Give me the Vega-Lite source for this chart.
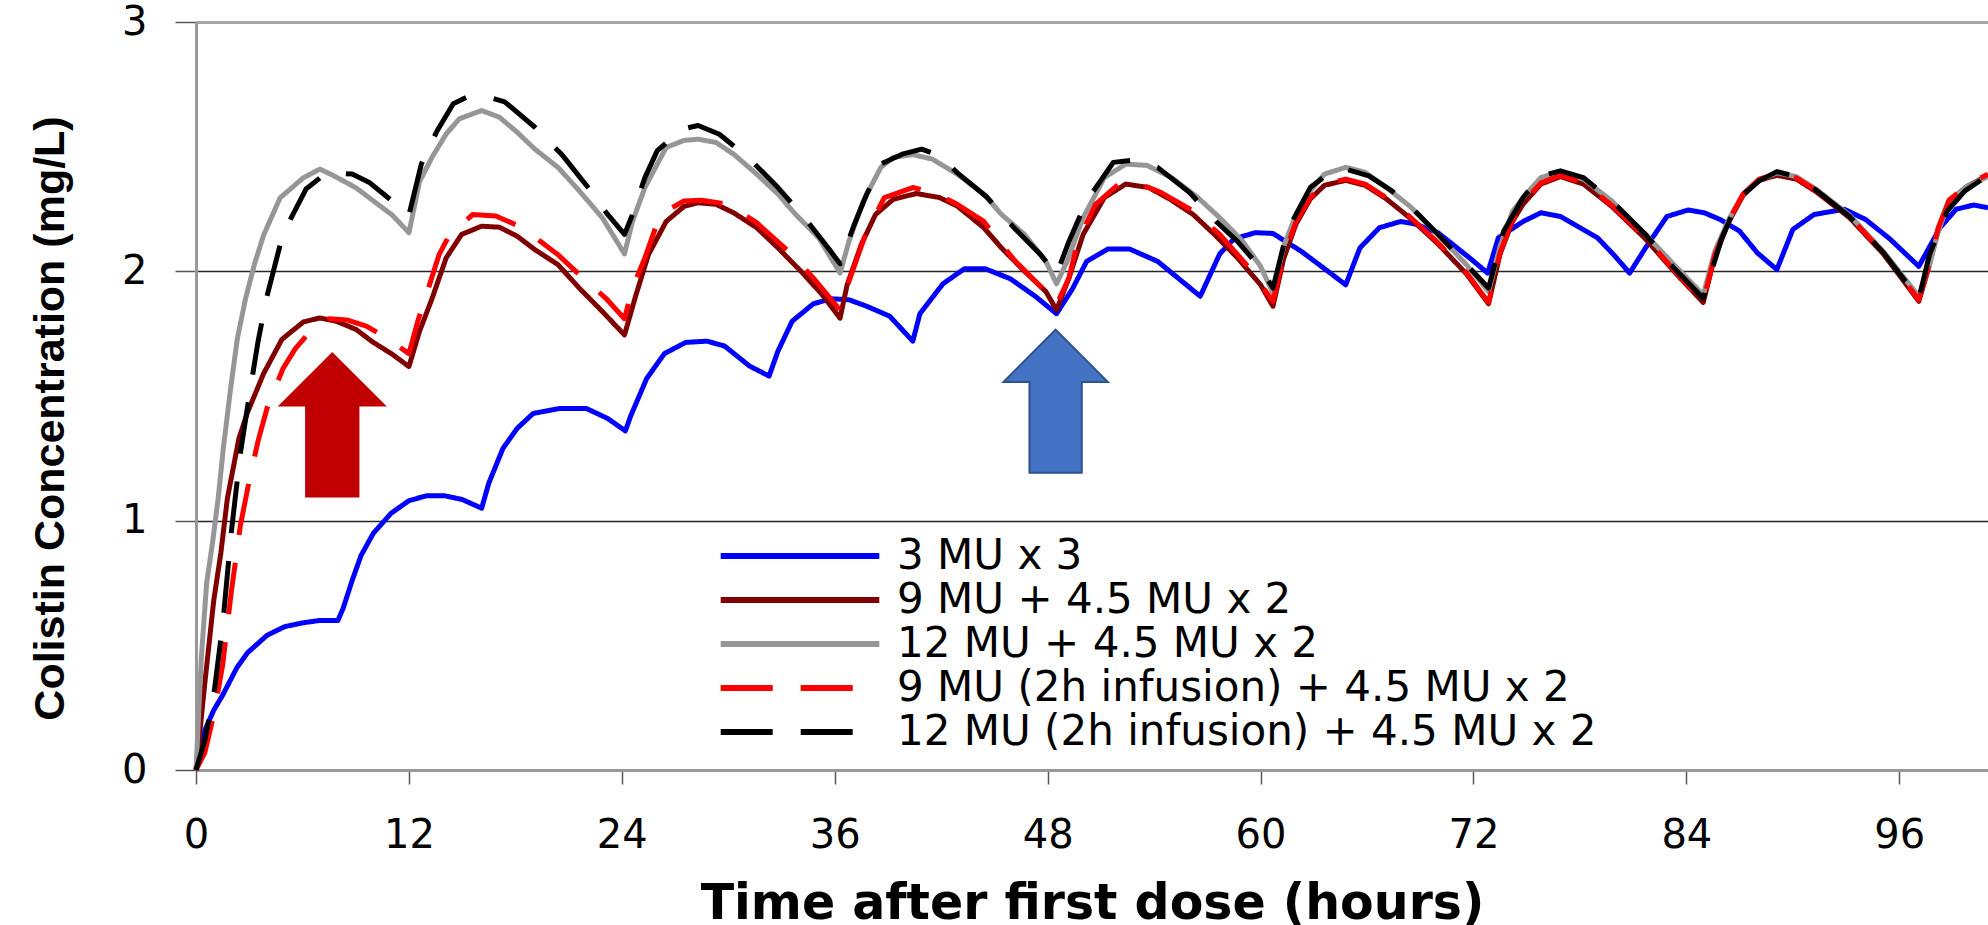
{
"$schema": "https://vega.github.io/schema/vega-lite/v6.json",
"width": 1792, "height": 748,
"autosize": {"type": "none"},
"padding": {"left": 196, "top": 22, "right": 0, "bottom": 155},
"background": "white",
"config": {
  "view": {"stroke": null},
  "legend": {"orient": "none", "legendX": 583, "legendY": 513, "symbolType": "M-7.93,0H7.93", "symbolSize": 400, "symbolStrokeWidth": 6, "labelFont": "DejaVu Sans", "labelFontSize": 42, "labelColor": "#000000", "labelLimit": 0, "rowPadding": 2, "labelOffset": 76, "padding": 0}
},
"data": {"values": [
{"s":"a","t":0,"c":0},{"s":"a","t":0.5,"c":0.16},{"s":"a","t":1,"c":0.24},{"s":"a","t":1.5,"c":0.3},{"s":"a","t":2.3,"c":0.41},{"s":"a","t":2.9,"c":0.47},{"s":"a","t":4,"c":0.54},{"s":"a","t":5,"c":0.575},{"s":"a","t":6,"c":0.59},{"s":"a","t":7,"c":0.6},{"s":"a","t":8,"c":0.6},{"s":"a","t":8.3,"c":0.65},{"s":"a","t":8.8,"c":0.76},{"s":"a","t":9.3,"c":0.86},{"s":"a","t":10,"c":0.95},{"s":"a","t":11,"c":1.03},{"s":"a","t":12,"c":1.08},{"s":"a","t":13,"c":1.1},{"s":"a","t":14,"c":1.1},{"s":"a","t":15,"c":1.085},{"s":"a","t":16.1,"c":1.05},{"s":"a","t":16.5,"c":1.15},{"s":"a","t":17.3,"c":1.29},{"s":"a","t":18.1,"c":1.37},{"s":"a","t":19,"c":1.43},{"s":"a","t":20.5,"c":1.45},{"s":"a","t":22,"c":1.45},{"s":"a","t":23.2,"c":1.41},{"s":"a","t":24.2,"c":1.36},{"s":"a","t":24.5,"c":1.42},{"s":"a","t":25.4,"c":1.57},{"s":"a","t":26.4,"c":1.67},{"s":"a","t":27.6,"c":1.715},{"s":"a","t":28.8,"c":1.72},{"s":"a","t":29.8,"c":1.7},{"s":"a","t":31.2,"c":1.62},{"s":"a","t":32.3,"c":1.58},{"s":"a","t":32.8,"c":1.68},{"s":"a","t":33.6,"c":1.8},{"s":"a","t":34.8,"c":1.87},{"s":"a","t":35.8,"c":1.89},{"s":"a","t":36.8,"c":1.886},{"s":"a","t":37.8,"c":1.86},{"s":"a","t":39.1,"c":1.82},{"s":"a","t":40.4,"c":1.72},{"s":"a","t":40.8,"c":1.83},{"s":"a","t":42.1,"c":1.95},{"s":"a","t":43.3,"c":2.01},{"s":"a","t":44.5,"c":2.01},{"s":"a","t":45.9,"c":1.97},{"s":"a","t":47.3,"c":1.9},{"s":"a","t":48.5,"c":1.83},{"s":"a","t":49.4,"c":1.93},{"s":"a","t":50.2,"c":2.04},{"s":"a","t":51.4,"c":2.09},{"s":"a","t":52.6,"c":2.09},{"s":"a","t":54.2,"c":2.04},{"s":"a","t":55.4,"c":1.97},{"s":"a","t":56.6,"c":1.9},{"s":"a","t":57.7,"c":2.07},{"s":"a","t":58.5,"c":2.13},{"s":"a","t":59.7,"c":2.155},{"s":"a","t":60.7,"c":2.152},{"s":"a","t":62.3,"c":2.08},{"s":"a","t":63.8,"c":2.0},{"s":"a","t":64.8,"c":1.946},{"s":"a","t":65.6,"c":2.094},{"s":"a","t":66.7,"c":2.175},{"s":"a","t":67.9,"c":2.2},{"s":"a","t":68.7,"c":2.19},{"s":"a","t":70,"c":2.155},{"s":"a","t":71.9,"c":2.047},{"s":"a","t":72.8,"c":1.993},{"s":"a","t":73.4,"c":2.134},{"s":"a","t":74.8,"c":2.2},{"s":"a","t":75.8,"c":2.235},{"s":"a","t":76.9,"c":2.22},{"s":"a","t":78,"c":2.175},{"s":"a","t":79,"c":2.134},{"s":"a","t":79.9,"c":2.067},{"s":"a","t":80.8,"c":1.993},{"s":"a","t":81.7,"c":2.094},{"s":"a","t":82.9,"c":2.22},{"s":"a","t":84.1,"c":2.246},{"s":"a","t":85,"c":2.235},{"s":"a","t":85.9,"c":2.208},{"s":"a","t":87,"c":2.161},{"s":"a","t":88,"c":2.074},{"s":"a","t":89.1,"c":2.007},{"s":"a","t":90,"c":2.168},{"s":"a","t":91.2,"c":2.228},{"s":"a","t":92.9,"c":2.249},{"s":"a","t":94.1,"c":2.208},{"s":"a","t":95.5,"c":2.128},{"s":"a","t":97.1,"c":2.02},{"s":"a","t":98.3,"c":2.175},{"s":"a","t":99.2,"c":2.249},{"s":"a","t":100.2,"c":2.266},{"s":"a","t":101,"c":2.255},
{"s":"b","t":0,"c":0},{"s":"b","t":0.5,"c":0.35},{"s":"b","t":1,"c":0.68},{"s":"b","t":1.4,"c":0.87},{"s":"b","t":1.77,"c":1.09},{"s":"b","t":2.42,"c":1.33},{"s":"b","t":2.88,"c":1.43},{"s":"b","t":3.81,"c":1.59},{"s":"b","t":4.84,"c":1.727},{"s":"b","t":6.05,"c":1.797},{"s":"b","t":6.98,"c":1.813},{"s":"b","t":7.9,"c":1.8},{"s":"b","t":9.02,"c":1.767},{"s":"b","t":9.95,"c":1.717},{"s":"b","t":11.07,"c":1.667},{"s":"b","t":12,"c":1.618},
{"s":"b","t":12.6,"c":1.76},{"s":"b","t":13.3,"c":1.89},{"s":"b","t":14.1,"c":2.054},{"s":"b","t":14.97,"c":2.148},{"s":"b","t":16.1,"c":2.181},{"s":"b","t":17.1,"c":2.177},{"s":"b","t":18.1,"c":2.141},{"s":"b","t":19.1,"c":2.087},{"s":"b","t":20.4,"c":2.027},{"s":"b","t":21.6,"c":1.933},{"s":"b","t":22.9,"c":1.839},{"s":"b","t":24.15,"c":1.745},
{"s":"b","t":24.8,"c":1.906},{"s":"b","t":25.5,"c":2.067},{"s":"b","t":26.5,"c":2.2},{"s":"b","t":27.5,"c":2.26},{"s":"b","t":28.3,"c":2.275},{"s":"b","t":29.3,"c":2.269},{"s":"b","t":30.3,"c":2.235},{"s":"b","t":31.6,"c":2.175},{"s":"b","t":32.8,"c":2.094},{"s":"b","t":34.1,"c":2.0},{"s":"b","t":35.3,"c":1.906},{"s":"b","t":36.3,"c":1.812},
{"s":"b","t":36.7,"c":1.946},{"s":"b","t":37.5,"c":2.108},{"s":"b","t":38.3,"c":2.228},{"s":"b","t":39.3,"c":2.289},{"s":"b","t":40.6,"c":2.312},{"s":"b","t":41.9,"c":2.296},{"s":"b","t":42.9,"c":2.262},{"s":"b","t":44.4,"c":2.175},{"s":"b","t":45.4,"c":2.094},{"s":"b","t":46.7,"c":2.0},{"s":"b","t":47.9,"c":1.919},{"s":"b","t":48.5,"c":1.845},
{"s":"b","t":49.2,"c":1.973},{"s":"b","t":50,"c":2.148},{"s":"b","t":51.2,"c":2.296},{"s":"b","t":52.4,"c":2.35},{"s":"b","t":53.7,"c":2.336},{"s":"b","t":54.9,"c":2.289},{"s":"b","t":56.2,"c":2.228},{"s":"b","t":57.4,"c":2.148},{"s":"b","t":58.7,"c":2.054},{"s":"b","t":60,"c":1.946},{"s":"b","t":60.7,"c":1.86},
{"s":"b","t":61.3,"c":2.05},{"s":"b","t":62,"c":2.19},{"s":"b","t":62.8,"c":2.29},{"s":"b","t":63.6,"c":2.345},{"s":"b","t":64.8,"c":2.365},{"s":"b","t":65.9,"c":2.345},{"s":"b","t":67.1,"c":2.29},{"s":"b","t":68.4,"c":2.215},{"s":"b","t":70,"c":2.11},{"s":"b","t":71.6,"c":1.99},{"s":"b","t":72.85,"c":1.87},
{"s":"b","t":73.5,"c":2.07},{"s":"b","t":74.2,"c":2.2},{"s":"b","t":74.8,"c":2.27},{"s":"b","t":75.8,"c":2.35},{"s":"b","t":76.9,"c":2.38},{"s":"b","t":78.2,"c":2.35},{"s":"b","t":79.8,"c":2.26},{"s":"b","t":81.7,"c":2.13},{"s":"b","t":83.3,"c":2.0},{"s":"b","t":84.95,"c":1.875},
{"s":"b","t":85.6,"c":2.06},{"s":"b","t":86.4,"c":2.2},{"s":"b","t":87.2,"c":2.305},{"s":"b","t":88.1,"c":2.365},{"s":"b","t":89.1,"c":2.385},{"s":"b","t":90.2,"c":2.37},{"s":"b","t":91.3,"c":2.32},{"s":"b","t":93.2,"c":2.215},{"s":"b","t":95.1,"c":2.07},{"s":"b","t":97.1,"c":1.88},
{"s":"b","t":97.6,"c":2.0},{"s":"b","t":98.2,"c":2.17},{"s":"b","t":98.8,"c":2.28},{"s":"b","t":99.8,"c":2.34},{"s":"b","t":101,"c":2.385},
{"s":"c","t":0,"c":0},{"s":"c","t":0.3,"c":0.45},{"s":"c","t":0.6,"c":0.75},{"s":"c","t":0.93,"c":0.91},{"s":"c","t":1.25,"c":1.09},{"s":"c","t":1.54,"c":1.29},{"s":"c","t":1.95,"c":1.53},{"s":"c","t":2.33,"c":1.73},{"s":"c","t":2.79,"c":1.89},{"s":"c","t":3.3,"c":2.03},{"s":"c","t":3.81,"c":2.145},{"s":"c","t":4.74,"c":2.295},{"s":"c","t":6.05,"c":2.375},{"s":"c","t":6.98,"c":2.41},{"s":"c","t":7.72,"c":2.385},{"s":"c","t":9.02,"c":2.335},{"s":"c","t":9.95,"c":2.285},{"s":"c","t":11.07,"c":2.225},{"s":"c","t":12,"c":2.155},
{"s":"c","t":12.6,"c":2.36},{"s":"c","t":13.3,"c":2.457},{"s":"c","t":14.1,"c":2.551},{"s":"c","t":14.85,"c":2.612},{"s":"c","t":16.1,"c":2.645},{"s":"c","t":17.1,"c":2.618},{"s":"c","t":18.1,"c":2.558},{"s":"c","t":19.1,"c":2.49},{"s":"c","t":20.4,"c":2.417},{"s":"c","t":21.6,"c":2.323},{"s":"c","t":22.9,"c":2.215},{"s":"c","t":24.15,"c":2.07},
{"s":"c","t":24.6,"c":2.2},{"s":"c","t":25.3,"c":2.336},{"s":"c","t":26.5,"c":2.497},{"s":"c","t":27.5,"c":2.525},{"s":"c","t":28.3,"c":2.53},{"s":"c","t":29.3,"c":2.517},{"s":"c","t":30.3,"c":2.47},{"s":"c","t":31.6,"c":2.39},{"s":"c","t":32.8,"c":2.31},{"s":"c","t":33.8,"c":2.228},{"s":"c","t":35.1,"c":2.134},{"s":"c","t":36.3,"c":1.993},
{"s":"c","t":36.8,"c":2.12},{"s":"c","t":37.6,"c":2.28},{"s":"c","t":38.6,"c":2.417},{"s":"c","t":39.3,"c":2.457},{"s":"c","t":40.4,"c":2.468},{"s":"c","t":41.5,"c":2.45},{"s":"c","t":42.9,"c":2.39},{"s":"c","t":44.4,"c":2.31},{"s":"c","t":45.4,"c":2.228},{"s":"c","t":46.7,"c":2.148},{"s":"c","t":47.9,"c":2.04},{"s":"c","t":48.5,"c":1.95},
{"s":"c","t":49.1,"c":2.04},{"s":"c","t":50,"c":2.215},{"s":"c","t":51.2,"c":2.376},{"s":"c","t":52.4,"c":2.43},{"s":"c","t":53.6,"c":2.425},{"s":"c","t":55,"c":2.375},{"s":"c","t":56.4,"c":2.3},{"s":"c","t":57.7,"c":2.215},{"s":"c","t":59,"c":2.12},{"s":"c","t":60,"c":2.02},{"s":"c","t":60.7,"c":1.913},
{"s":"c","t":61.3,"c":2.1},{"s":"c","t":62,"c":2.228},{"s":"c","t":62.8,"c":2.323},{"s":"c","t":63.6,"c":2.39},{"s":"c","t":64.8,"c":2.417},{"s":"c","t":65.9,"c":2.397},{"s":"c","t":67.1,"c":2.336},{"s":"c","t":68.4,"c":2.262},{"s":"c","t":70,"c":2.148},{"s":"c","t":71.6,"c":2.027},{"s":"c","t":72.85,"c":1.919},
{"s":"c","t":73.5,"c":2.1},{"s":"c","t":74.2,"c":2.24},{"s":"c","t":74.8,"c":2.296},{"s":"c","t":75.8,"c":2.376},{"s":"c","t":76.9,"c":2.4},{"s":"c","t":78.2,"c":2.37},{"s":"c","t":79.8,"c":2.282},{"s":"c","t":81.7,"c":2.148},{"s":"c","t":83.3,"c":2.027},{"s":"c","t":84.95,"c":1.906},
{"s":"c","t":85.6,"c":2.08},{"s":"c","t":86.4,"c":2.21},{"s":"c","t":87.2,"c":2.31},{"s":"c","t":88.1,"c":2.365},{"s":"c","t":89.1,"c":2.395},{"s":"c","t":90.2,"c":2.38},{"s":"c","t":91.3,"c":2.33},{"s":"c","t":93.2,"c":2.225},{"s":"c","t":95.1,"c":2.08},{"s":"c","t":97.1,"c":1.9},
{"s":"c","t":97.6,"c":2.0},{"s":"c","t":98.2,"c":2.16},{"s":"c","t":98.8,"c":2.28},{"s":"c","t":99.8,"c":2.34},{"s":"c","t":101,"c":2.38},
{"s":"d","t":0,"c":0},{"s":"d","t":0.5,"c":0.07},{"s":"d","t":1,"c":0.22},{"s":"d","t":1.5,"c":0.42},{"s":"d","t":2,"c":0.72},{"s":"d","t":2.5,"c":0.98},{"s":"d","t":3,"c":1.16},{"s":"d","t":3.5,"c":1.32},{"s":"d","t":4,"c":1.45},{"s":"d","t":4.9,"c":1.61},{"s":"d","t":5.6,"c":1.69},{"s":"d","t":6.5,"c":1.765},{"s":"d","t":7.5,"c":1.81},{"s":"d","t":8.5,"c":1.805},{"s":"d","t":9.6,"c":1.78},{"s":"d","t":10.7,"c":1.735},{"s":"d","t":12,"c":1.67},
{"s":"d","t":12.5,"c":1.8},{"s":"d","t":13.1,"c":1.933},{"s":"d","t":13.7,"c":2.067},{"s":"d","t":14.3,"c":2.148},{"s":"d","t":15.6,"c":2.228},{"s":"d","t":16.9,"c":2.222},{"s":"d","t":18.4,"c":2.175},{"s":"d","t":20.4,"c":2.067},{"s":"d","t":21.6,"c":1.987},{"s":"d","t":23.1,"c":1.892},{"s":"d","t":24.15,"c":1.81},
{"s":"d","t":24.6,"c":1.933},{"s":"d","t":25.3,"c":2.054},{"s":"d","t":25.9,"c":2.175},{"s":"d","t":26.5,"c":2.242},{"s":"d","t":27.5,"c":2.282},{"s":"d","t":28.5,"c":2.285},{"s":"d","t":30,"c":2.269},{"s":"d","t":31.6,"c":2.195},{"s":"d","t":33.6,"c":2.067},{"s":"d","t":34.8,"c":1.973},{"s":"d","t":36.3,"c":1.845},
{"s":"d","t":36.8,"c":1.96},{"s":"d","t":37.8,"c":2.161},{"s":"d","t":38.8,"c":2.296},{"s":"d","t":40.4,"c":2.336},{"s":"d","t":41.6,"c":2.316},{"s":"d","t":42.9,"c":2.269},{"s":"d","t":44.4,"c":2.2},{"s":"d","t":46.1,"c":2.047},{"s":"d","t":47.7,"c":1.933},{"s":"d","t":48.5,"c":1.866},
{"s":"d","t":49.2,"c":1.973},{"s":"d","t":49.7,"c":2.121},{"s":"d","t":50.7,"c":2.269},{"s":"d","t":52,"c":2.35},{"s":"d","t":53,"c":2.356},{"s":"d","t":54.4,"c":2.316},{"s":"d","t":56.2,"c":2.242},{"s":"d","t":57.7,"c":2.148},{"s":"d","t":59.2,"c":2.027},{"s":"d","t":60.7,"c":1.88},
{"s":"d","t":61.3,"c":2.06},{"s":"d","t":62,"c":2.2},{"s":"d","t":62.8,"c":2.295},{"s":"d","t":63.6,"c":2.35},{"s":"d","t":64.8,"c":2.37},{"s":"d","t":65.9,"c":2.35},{"s":"d","t":67.1,"c":2.295},{"s":"d","t":68.4,"c":2.22},{"s":"d","t":70,"c":2.115},{"s":"d","t":71.6,"c":1.995},{"s":"d","t":72.85,"c":1.875},
{"s":"d","t":73.5,"c":2.075},{"s":"d","t":74.2,"c":2.205},{"s":"d","t":74.8,"c":2.275},{"s":"d","t":75.8,"c":2.355},{"s":"d","t":76.9,"c":2.385},{"s":"d","t":78.2,"c":2.355},{"s":"d","t":79.8,"c":2.265},{"s":"d","t":81.7,"c":2.135},{"s":"d","t":83.3,"c":2.005},{"s":"d","t":84.95,"c":1.88},
{"s":"d","t":85.6,"c":2.065},{"s":"d","t":86.4,"c":2.205},{"s":"d","t":87.2,"c":2.31},{"s":"d","t":88.1,"c":2.37},{"s":"d","t":89.1,"c":2.39},{"s":"d","t":90.2,"c":2.375},{"s":"d","t":91.3,"c":2.325},{"s":"d","t":93.2,"c":2.22},{"s":"d","t":95.1,"c":2.075},{"s":"d","t":97.1,"c":1.885},
{"s":"d","t":97.6,"c":2.005},{"s":"d","t":98.2,"c":2.175},{"s":"d","t":98.8,"c":2.285},{"s":"d","t":99.8,"c":2.345},{"s":"d","t":101,"c":2.39},
{"s":"e","t":0,"c":0},{"s":"e","t":0.5,"c":0.12},{"s":"e","t":1,"c":0.3},{"s":"e","t":1.5,"c":0.58},{"s":"e","t":2,"c":0.96},{"s":"e","t":2.5,"c":1.27},{"s":"e","t":3,"c":1.5},{"s":"e","t":3.5,"c":1.72},{"s":"e","t":4,"c":1.9},{"s":"e","t":4.9,"c":2.15},{"s":"e","t":6.2,"c":2.33},{"s":"e","t":7.35,"c":2.395},{"s":"e","t":8.8,"c":2.39},{"s":"e","t":9.8,"c":2.355},{"s":"e","t":11,"c":2.285},{"s":"e","t":12,"c":2.225},
{"s":"e","t":12.7,"c":2.43},{"s":"e","t":13.6,"c":2.565},{"s":"e","t":14.5,"c":2.672},{"s":"e","t":15.3,"c":2.7},{"s":"e","t":16.4,"c":2.7},{"s":"e","t":17.4,"c":2.68},{"s":"e","t":19.1,"c":2.578},{"s":"e","t":20.6,"c":2.47},{"s":"e","t":22.1,"c":2.336},{"s":"e","t":23.2,"c":2.228},{"s":"e","t":24.15,"c":2.148},
{"s":"e","t":24.6,"c":2.228},{"s":"e","t":25.3,"c":2.376},{"s":"e","t":26,"c":2.484},{"s":"e","t":27.4,"c":2.57},{"s":"e","t":28.3,"c":2.585},{"s":"e","t":29.5,"c":2.55},{"s":"e","t":31.3,"c":2.444},{"s":"e","t":32.8,"c":2.336},{"s":"e","t":34.3,"c":2.215},{"s":"e","t":35.7,"c":2.087},{"s":"e","t":36.3,"c":2.03},
{"s":"e","t":37.1,"c":2.188},{"s":"e","t":37.8,"c":2.309},{"s":"e","t":38.6,"c":2.43},{"s":"e","t":39.8,"c":2.47},{"s":"e","t":40.9,"c":2.49},{"s":"e","t":41.9,"c":2.464},{"s":"e","t":42.9,"c":2.396},{"s":"e","t":44.6,"c":2.296},{"s":"e","t":46.1,"c":2.175},{"s":"e","t":47.6,"c":2.067},{"s":"e","t":48.5,"c":1.987},
{"s":"e","t":49.2,"c":2.12},{"s":"e","t":50.2,"c":2.282},{"s":"e","t":51.7,"c":2.437},{"s":"e","t":52.7,"c":2.445},{"s":"e","t":54.2,"c":2.417},{"s":"e","t":56,"c":2.316},{"s":"e","t":57.5,"c":2.2},{"s":"e","t":58.7,"c":2.12},{"s":"e","t":60,"c":2.013},{"s":"e","t":60.7,"c":1.933},
{"s":"e","t":61.5,"c":2.161},{"s":"e","t":62.8,"c":2.336},{"s":"e","t":63.9,"c":2.397},{"s":"e","t":64.8,"c":2.41},{"s":"e","t":66.1,"c":2.383},{"s":"e","t":67.4,"c":2.323},{"s":"e","t":68.7,"c":2.242},{"s":"e","t":70.2,"c":2.134},{"s":"e","t":71.6,"c":2.027},{"s":"e","t":72.85,"c":1.933},
{"s":"e","t":73.7,"c":2.161},{"s":"e","t":74.8,"c":2.296},{"s":"e","t":75.8,"c":2.383},{"s":"e","t":76.9,"c":2.403},{"s":"e","t":78.2,"c":2.376},{"s":"e","t":79.8,"c":2.282},{"s":"e","t":81.7,"c":2.148},{"s":"e","t":83.3,"c":2.013},{"s":"e","t":84.95,"c":1.892},
{"s":"e","t":86,"c":2.134},{"s":"e","t":87,"c":2.296},{"s":"e","t":88.1,"c":2.363},{"s":"e","t":89.1,"c":2.4},{"s":"e","t":90.2,"c":2.38},{"s":"e","t":91.3,"c":2.326},{"s":"e","t":93.2,"c":2.22},{"s":"e","t":95.1,"c":2.075},{"s":"e","t":97.1,"c":1.89},
{"s":"e","t":97.7,"c":2.067},{"s":"e","t":98.7,"c":2.242},{"s":"e","t":99.7,"c":2.323},{"s":"e","t":101,"c":2.385}
]},
"encoding": {
  "x": {"field": "t", "type": "quantitative", "scale": {"domain": [0, 101], "nice": false, "zero": false},
    "axis": {"title": "Time after first dose (hours)", "values": [0,12,24,36,48,60,72,84,96], "grid": false, "domainColor": "#999999", "domainWidth": 3, "tickColor": "#555555", "tickWidth": 1.5, "tickSize": 14, "labelFont": "DejaVu Sans", "labelFontSize": 40, "labelColor": "#000000", "labelPadding": 31, "labelFlush": false, "labelOverlap": false, "titleFont": "DejaVu Sans", "titleFontSize": 49, "titleFontWeight": "bold", "titleColor": "#000000", "titlePadding": 24}},
  "y": {"field": "c", "type": "quantitative", "scale": {"domain": [0, 3], "nice": false},
    "axis": {"title": "Colistin Concentration (mg/L)", "values": [0,1,2,3], "grid": true,
      "gridColor": {"condition": {"test": "datum.value == 3", "value": "#a6a6a6"}, "value": "#262626"},
      "gridWidth": {"condition": {"test": "datum.value == 3", "value": 3}, "value": 1.5},
      "domainColor": "#999999", "domainWidth": 3, "tickColor": "#555555", "tickWidth": 1.5, "tickSize": 21, "labelFont": "DejaVu Sans", "labelFontSize": 40, "labelColor": "#000000", "labelPadding": 28, "labelFlush": false, "titleFont": "Liberation Sans", "titleFontSize": 43, "titleFontWeight": "bold", "titleColor": "#000000", "titleAngle": -90, "titleAlign": "center", "titleBaseline": "middle", "titleX": -146, "titleY": 396}}
},
"layer": [
  {"transform": [{"filter": "datum.s == 'a'"}], "mark": {"type": "line", "strokeWidth": 5, "strokeJoin": "round"},
   "encoding": {"color": {"field": "s", "type": "nominal", "scale": {"domain": ["a","b","c","d","e"], "range": ["#0000FF","#800000","#969696","#FF0000","#000000"]}, "legend": {"title": null, "labelExpr": "datum.label == 'a' ? '3 MU x 3' : datum.label == 'b' ? '9 MU + 4.5 MU x 2' : datum.label == 'c' ? '12 MU + 4.5 MU x 2' : datum.label == 'd' ? '9 MU (2h infusion) + 4.5 MU x 2' : '12 MU (2h infusion) + 4.5 MU x 2'"}},
     "strokeDash": {"field": "s", "type": "nominal", "scale": {"domain": ["a","b","c","d","e"], "range": [[1,0],[1,0],[1,0],[52,28],[52,28]]}, "legend": {"title": null, "labelExpr": "datum.label == 'a' ? '3 MU x 3' : datum.label == 'b' ? '9 MU + 4.5 MU x 2' : datum.label == 'c' ? '12 MU + 4.5 MU x 2' : datum.label == 'd' ? '9 MU (2h infusion) + 4.5 MU x 2' : '12 MU (2h infusion) + 4.5 MU x 2'"}}}},
  {"transform": [{"filter": "datum.s == 'b'"}], "mark": {"type": "line", "strokeWidth": 5, "strokeJoin": "round"},
   "encoding": {"color": {"field": "s", "type": "nominal"}, "strokeDash": {"field": "s", "type": "nominal"}}},
  {"transform": [{"filter": "datum.s == 'c'"}], "mark": {"type": "line", "strokeWidth": 5, "strokeJoin": "round"},
   "encoding": {"color": {"field": "s", "type": "nominal"}, "strokeDash": {"field": "s", "type": "nominal"}}},
  {"transform": [{"filter": "datum.s == 'd'"}], "mark": {"type": "line", "strokeWidth": 5, "strokeJoin": "round"},
   "encoding": {"color": {"field": "s", "type": "nominal"}, "strokeDash": {"field": "s", "type": "nominal"}}},
  {"transform": [{"filter": "datum.s == 'e'"}], "mark": {"type": "line", "strokeWidth": 5, "strokeJoin": "round"},
   "encoding": {"color": {"field": "s", "type": "nominal"}, "strokeDash": {"field": "s", "type": "nominal"}}},
  {"data": {"values": [{"t": 7.68, "c": 1.384, "k": "r"}, {"t": 48.45, "c": 1.479, "k": "b"}]},
   "mark": {"type": "point", "shape": "M0,-1L0.73,-0.27L0.366,-0.27L0.366,1L-0.366,1L-0.366,-0.27L-0.73,-0.27Z", "size": 20449, "filled": true, "opacity": 1, "strokeWidth": 2},
   "encoding": {"fill": {"field": "k", "type": "nominal", "scale": {"domain": ["r","b"], "range": ["#C00000","#4472C4"]}, "legend": null},
     "stroke": {"field": "k", "type": "nominal", "scale": {"domain": ["r","b"], "range": ["#C00000","#2F528F"]}, "legend": null}}}
]
}
